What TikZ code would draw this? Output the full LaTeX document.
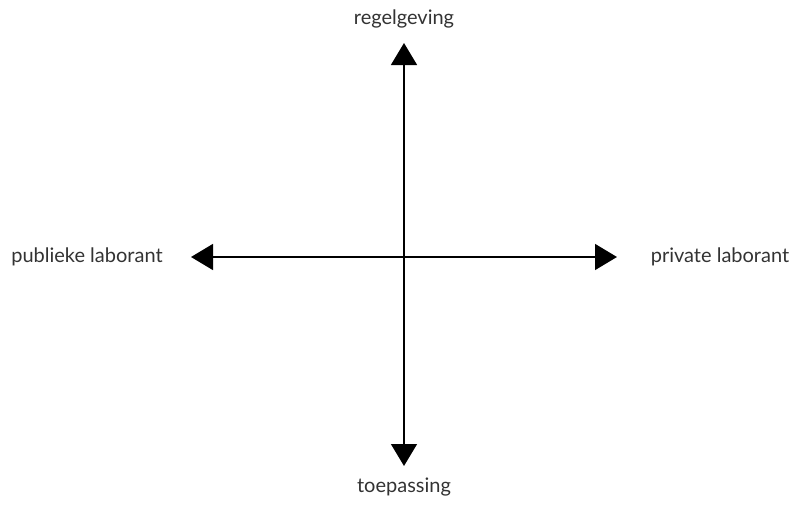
\documentclass[tikz,border=0pt]{standalone}
\usepackage{fontspec}
\setmainfont{Lato}
\usetikzlibrary{arrows.meta}
\definecolor{txt}{HTML}{333333}
\tikzset{
  lbl/.style={font=\fontsize{20}{24}\selectfont, text=txt, inner sep=0pt},
  axis/.style={line width=1.4pt, -{Triangle[width=26pt,length=22pt]}}
}
\begin{document}
\begin{tikzpicture}[x=1pt,y=-1pt]
\useasboundingbox (0,0) rectangle (796,504);
\coordinate (c) at (404,257);
\coordinate (t) at (404,43);
\coordinate (b) at (404,466);
\coordinate (l) at (191,257);
\coordinate (r) at (617,257);
\draw[axis] (c) -- (t);
\draw[axis] (c) -- (b);
\draw[axis] (c) -- (l);
\draw[axis] (c) -- (r);
\node[lbl] (nt) at (404,19) {regelgeving};
\node[lbl] (nb) at (404,487) {toepassing};
\node[lbl] (nl) at (87,257) {publieke laborant};
\node[lbl] (nr) at (720,257) {private laborant};
\end{tikzpicture}
\end{document}
